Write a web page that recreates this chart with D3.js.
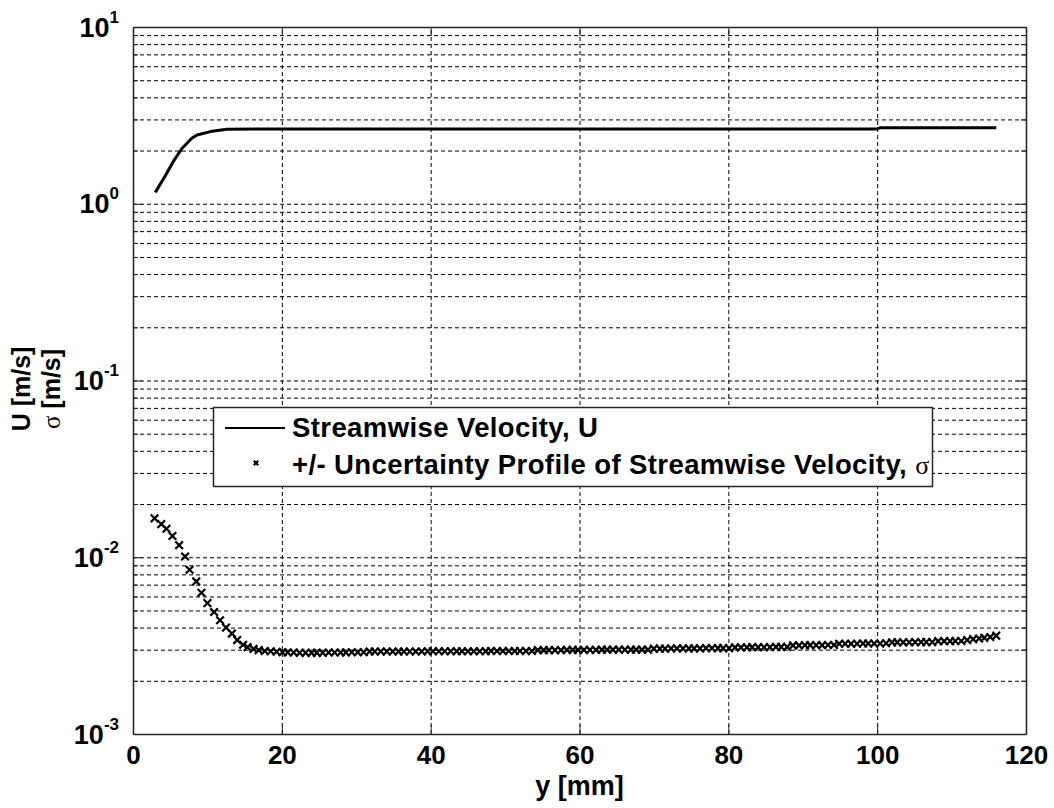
<!DOCTYPE html>
<html>
<head>
<meta charset="utf-8">
<script src="https://cdn.jsdelivr.net/npm/d3@7"></script>
<style>
  html, body { margin: 0; padding: 0; background: #fff; }
  svg { display: block; }
</style>
</head>
<body>
<script>
// streamwise velocity U [m/s] vs y [mm]
let uY = [3.0, 4.3, 5.4, 6.6, 7.9, 8.6, 10.4, 12.6, 20, 40, 60, 80, 100, 100.4, 116];
let uVal = [1.16, 1.43, 1.73, 2.06, 2.35, 2.45, 2.56, 2.64, 2.65, 2.65, 2.65, 2.65, 2.65, 2.69, 2.69];

// uncertainty sigma [m/s] vs y [mm]
let sigmaY = [2.9,3.8,4.5,5.3,6.2,7.0,7.6,8.5,9.2,10.0,10.9,11.7,12.5,13.3,14.0,14.8,
  15.4,16.2,16.9,17.7,18.5,19.3,20.1,20.8,21.6,22.4,23.2,24.0,24.7,25.5,26.3,27.1,27.9,28.6,29.4,30.2,
  31.0,31.8,32.5,33.3,34.1,34.9,35.7,36.4,37.2,38.0,38.8,39.6,40.3,41.1,41.9,42.7,43.5,44.2,45.0,45.8,
  46.6,47.4,48.1,48.9,49.7,50.5,51.3,52.0,52.8,53.6,54.4,55.2,55.9,56.7,57.5,58.3,59.1,59.8,60.6,61.4,
  62.2,63.0,63.7,64.5,65.3,66.1,66.9,67.6,68.4,69.2,70.0,70.8,71.5,72.3,73.1,73.9,74.7,75.4,76.2,77.0,
  77.8,78.6,79.3,80.1,80.9,81.7,82.5,83.2,84.0,84.8,85.6,86.4,87.1,87.9,88.7,89.5,90.3,91.0,91.8,92.6,
  93.4,94.2,94.9,95.7,96.5,97.3,98.1,98.8,99.6,100.4,101.2,102.0,102.7,103.5,104.3,105.1,105.9,106.6,107.4,108.2,
  109.0,109.8,110.5,111.3,112.1,112.9,113.7,114.4,115.2,116.0];
let sigmaVal = [0.0166,0.0154,0.0145,0.0132,0.0117,0.0101,0.0085,0.0073,0.0063,0.0055,
  0.0049,0.0044,0.0040,0.0037,0.0034,0.0032,0.00310,0.00303,0.00298,0.00295,
  0.00294,0.00292,0.00290,0.00289,0.00289,0.00288,0.00288,0.00288,0.00288,0.00288,
  0.00289,0.00289,0.00289,0.00289,0.00290,0.00290,0.00290,0.00293,0.00293,0.00293,
  0.00293,0.00293,0.00293,0.00293,0.00293,0.00293,0.00293,0.00294,0.00294,0.00294,
  0.00294,0.00294,0.00294,0.00294,0.00294,0.00294,0.00294,0.00294,0.00295,0.00295,
  0.00295,0.00295,0.00295,0.00295,0.00295,0.00295,0.00298,0.00298,0.00298,0.00298,
  0.00298,0.00299,0.00299,0.00299,0.00299,0.00299,0.00299,0.00300,0.00300,0.00300,
  0.00300,0.00300,0.00300,0.00300,0.00300,0.00300,0.00304,0.00304,0.00304,0.00305,
  0.00305,0.00305,0.00305,0.00305,0.00305,0.00306,0.00306,0.00306,0.00306,0.00306,
  0.00309,0.00309,0.00309,0.00310,0.00310,0.00310,0.00310,0.00311,0.00311,0.00311,
  0.00317,0.00317,0.00318,0.00318,0.00318,0.00318,0.00319,0.00319,0.00324,0.00324,
  0.00324,0.00324,0.00325,0.00325,0.00325,0.00325,0.00326,0.00330,0.00330,0.00330,
  0.00330,0.00331,0.00331,0.00331,0.00331,0.00335,0.00335,0.00335,0.00336,0.00336,
  0.00340,0.00344,0.00347,0.00350,0.00354,0.00360];

let xTicks = [0, 20, 40, 60, 80, 100, 120];
let yExponents = [-3, -2, -1, 0, 1];
let legendLabels = ['Streamwise Velocity, U', '+/- Uncertainty Profile of Streamwise Velocity, '];

let width = 1054;
let height = 808;
let margins = { top: 27, bottom: 74, left: 133, right: 28 };
let font = '"Liberation Sans", Arial, sans-serif';

let xScale = d3.scaleLinear([0, 120], [margins.left, width - margins.right]);
let yScale = d3.scaleLog([1e-3, 1e1], [height - margins.bottom, margins.top]);

let majors = yExponents.map(e => Math.pow(10, e));
let minors = [];
yExponents.slice(0, -1).forEach(e => {
  for (let k = 2; k <= 9; k++) minors.push(k * Math.pow(10, e));
});
let yGrid = minors.concat(majors.slice(1, -1));
let xGrid = xTicks.slice(1, -1);

let plotW = width - margins.left - margins.right;
let plotH = height - margins.top - margins.bottom;

let svg = d3.create('svg')
  .attr('width', width)
  .attr('height', height)
  .style('background', '#fff');

// grid
svg.append('g')
  .attr('transform', `translate(${margins.left},0)`)
  .call(d3.axisLeft(yScale).tickValues(yGrid).tickSize(-plotW).tickFormat(''))
  .call(g => g.select('.domain').remove())
  .selectAll('line')
  .attr('stroke', '#000')
  .attr('stroke-dasharray', '4,3');

svg.append('g')
  .attr('transform', `translate(0,${height - margins.bottom})`)
  .call(d3.axisBottom(xScale).tickValues(xGrid).tickSize(-plotH).tickFormat(''))
  .call(g => g.select('.domain').remove())
  .selectAll('line')
  .attr('stroke', '#000')
  .attr('stroke-dasharray', '4,3');

// U line
svg.append('path')
  .datum(d3.zip(uY, uVal))
  .attr('d', d3.line()
    .x(d => xScale(d[0]))
    .y(d => yScale(d[1])))
  .attr('fill', 'none')
  .attr('stroke', '#000')
  .attr('stroke-width', 3)
  .attr('stroke-linejoin', 'round');

// sigma markers
let cross = (s) => `M${-s},${-s}L${s},${s}M${-s},${s}L${s},${-s}`;
svg.append('g')
  .selectAll('path')
  .data(d3.zip(sigmaY, sigmaVal))
  .join('path')
  .attr('transform', d => `translate(${xScale(d[0])},${yScale(d[1])})`)
  .attr('d', cross(3.8))
  .attr('stroke', '#000')
  .attr('stroke-width', 2.2)
  .attr('fill', 'none');

// axes box and ticks
let axisColor = '#262626';
let styleAxis = g => {
  g.select('.domain').attr('stroke', axisColor).attr('stroke-width', 1.3);
  g.selectAll('.tick line').attr('stroke', axisColor);
};

svg.append('g')
  .attr('transform', `translate(0,${height - margins.bottom})`)
  .call(d3.axisBottom(xScale).tickValues(xTicks).tickSize(-9).tickSizeOuter(0).tickPadding(12))
  .call(styleAxis)
  .call(g => g.selectAll('.tick text')
    .attr('font-family', font)
    .attr('font-weight', 'bold')
    .attr('font-size', 26)
    .attr('fill', '#000'));

svg.append('g')
  .attr('transform', `translate(0,${margins.top})`)
  .call(d3.axisTop(xScale).tickValues(xTicks).tickSize(-9).tickSizeOuter(0).tickFormat(''))
  .call(styleAxis);

svg.append('g')
  .attr('transform', `translate(${margins.left},0)`)
  .call(d3.axisLeft(yScale).tickValues(minors).tickSize(-5).tickSizeOuter(0).tickFormat(''))
  .call(styleAxis);

svg.append('g')
  .attr('transform', `translate(${width - margins.right},0)`)
  .call(d3.axisRight(yScale).tickValues(minors).tickSize(-5).tickSizeOuter(0).tickFormat(''))
  .call(styleAxis);

svg.append('g')
  .attr('transform', `translate(${width - margins.right},0)`)
  .call(d3.axisRight(yScale).tickValues(majors).tickSize(-9).tickSizeOuter(0).tickFormat(''))
  .call(styleAxis);

let yAxisG = svg.append('g')
  .attr('transform', `translate(${margins.left},0)`)
  .call(d3.axisLeft(yScale).tickValues(majors).tickSize(-9).tickSizeOuter(0).tickFormat(''))
  .call(styleAxis);

let yLab = yAxisG.selectAll('.tick')
  .append('text')
  .attr('x', -14)
  .attr('y', 9)
  .attr('text-anchor', 'end')
  .attr('font-family', font)
  .attr('font-weight', 'bold')
  .attr('fill', '#000');
yLab.append('tspan').attr('font-size', 27).text('10');
yLab.append('tspan').attr('font-size', 17).attr('dy', -14).text((d, i) => yExponents[i]);

// axis titles
svg.append('text')
  .text('y [mm]')
  .attr('x', margins.left + plotW / 2)
  .attr('y', 795)
  .attr('text-anchor', 'middle')
  .attr('font-family', font)
  .attr('font-weight', 'bold')
  .attr('font-size', 27);

svg.append('text')
  .text('U [m/s]')
  .attr('transform', 'translate(30,389) rotate(-90)')
  .attr('text-anchor', 'middle')
  .attr('font-family', font)
  .attr('font-weight', 'bold')
  .attr('font-size', 25);

let sigTitle = svg.append('text')
  .attr('transform', 'translate(60,389) rotate(-90)')
  .attr('text-anchor', 'middle')
  .attr('font-family', font)
  .attr('font-weight', 'bold')
  .attr('font-size', 25);
sigTitle.append('tspan').attr('font-family', '"Liberation Serif", serif').attr('font-weight', 'normal').text('σ');
sigTitle.append('tspan').text(' [m/s]');

// legend
let legend = svg.append('g');
legend.append('rect')
  .attr('x', 213.5).attr('y', 407.5)
  .attr('width', 719).attr('height', 79)
  .attr('fill', '#fff')
  .attr('stroke', axisColor)
  .attr('stroke-width', 1.5);

legend.append('line')
  .attr('x1', 225).attr('x2', 285)
  .attr('y1', 428).attr('y2', 428)
  .attr('stroke', '#000')
  .attr('stroke-width', 2);

legend.append('path')
  .attr('transform', 'translate(256,463)')
  .attr('d', cross(2.3))
  .attr('stroke', '#000')
  .attr('stroke-width', 2);

legend.selectAll('text.lab')
  .data(legendLabels)
  .join('text')
  .attr('class', 'lab')
  .attr('x', 292)
  .attr('y', (d, i) => 437 + i * 37)
  .attr('font-family', font)
  .attr('font-weight', 'bold')
  .attr('font-size', 27.5)
  .attr('letter-spacing', 0.4)
  .attr('fill', '#000')
  .text(d => d)
  .filter((d, i) => i == 1)
  .append('tspan')
  .attr('font-family', '"Liberation Serif", serif')
  .attr('font-weight', 'normal')
  .attr('font-size', 26)
  .text('σ');

document.body.prepend(svg.node());
</script>
</body>
</html>
